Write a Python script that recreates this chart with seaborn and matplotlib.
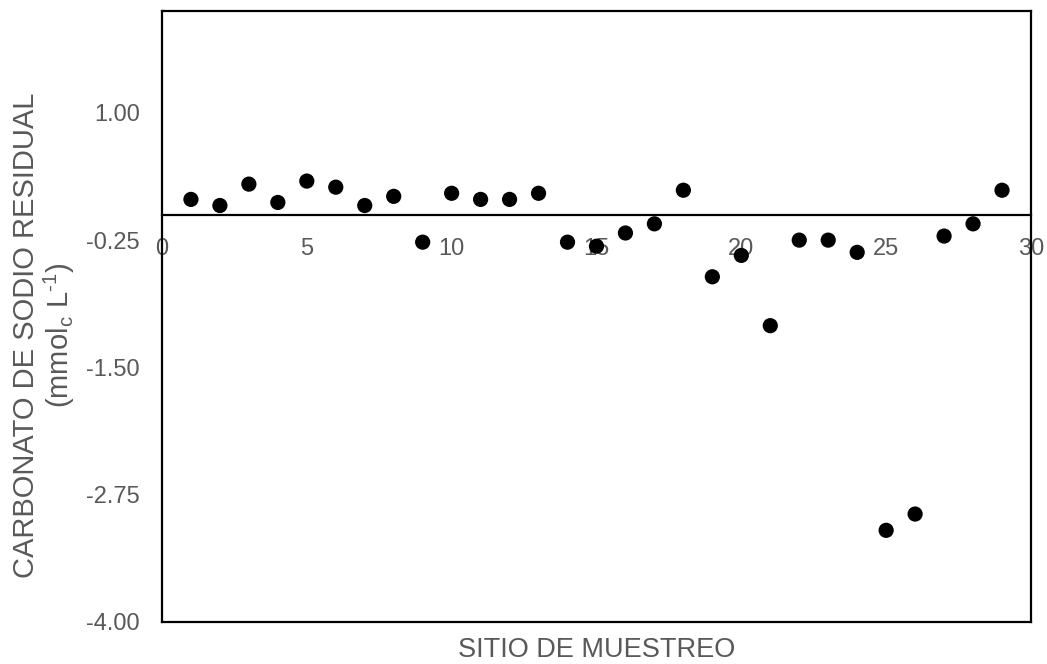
import numpy as np, pandas as pd
import matplotlib
matplotlib.use("Agg")
import matplotlib.pyplot as plt
import seaborn as sns

sns.set_style("white")
plt.rcParams["font.family"] = ["Liberation Sans", "DejaVu Sans"]
plt.rcParams["mathtext.fontset"] = "custom"
plt.rcParams["mathtext.rm"] = "Liberation Sans"

GRAY = "#595959"

# ---- data ----
sitio = list(range(1, 30))
csr = [0.15, 0.09, 0.30, 0.12, 0.33, 0.27, 0.09, 0.18, -0.27, 0.21,
       0.15, 0.15, 0.21, -0.27, -0.31, -0.18, -0.09, 0.24, -0.61, -0.40,
       -1.09, -0.25, -0.25, -0.37, -3.10, -2.94, -0.21, -0.09, 0.24]
XTICKS = [0, 5, 10, 15, 20, 25, 30]
YTICKS = [-4.00, -2.75, -1.50, -0.25, 1.00]
XLIM = (0, 30)
YLIM = (-4.0, 2.0)

df = pd.DataFrame({"sitio": sitio, "csr": csr})

fig, ax = plt.subplots(figsize=(10.47, 6.64), dpi=100)
fig.subplots_adjust(left=0.1547, right=0.9847, top=0.9834, bottom=0.0633)

sns.scatterplot(data=df, x="sitio", y="csr", ax=ax, color="black",
                s=120, edgecolor="none", zorder=3)

ax.set_xlim(*XLIM); ax.set_ylim(*YLIM)
ax.set_xticks(XTICKS); ax.set_yticks(YTICKS)
ax.set_yticklabels([f"{v:.2f}" for v in YTICKS])
ax.tick_params(axis="x", length=0, labelbottom=False)
ax.tick_params(axis="y", length=0, pad=16, labelsize=17, labelcolor=GRAY)
for sp in ax.spines.values():
    sp.set_visible(True); sp.set_color("black"); sp.set_linewidth(1.6)

# x axis crossing at y = 0 (Excel style)
loc = (0 - YLIM[0]) / (YLIM[1] - YLIM[0])
sec = ax.secondary_xaxis(loc)
sec.set_alignment("bottom")
sec.set_xticks(XTICKS)
sec.tick_params(length=0, pad=17, labelsize=17, labelcolor=GRAY)
for sp in sec.spines.values():
    sp.set_color("black"); sp.set_linewidth(1.6)

ax.set_xlabel("SITIO DE MUESTREO", fontsize=19.5, color=GRAY, labelpad=11)
ax.set_ylabel("CARBONATO DE SODIO RESIDUAL\n(mmol$_\\mathregular{c}$ L$^\\mathregular{\u20101}$)",
              fontsize=21, color=GRAY, linespacing=1.05)
ax.yaxis.set_label_coords(-0.098, 0.47)

fig.savefig("out.png", dpi=100)
